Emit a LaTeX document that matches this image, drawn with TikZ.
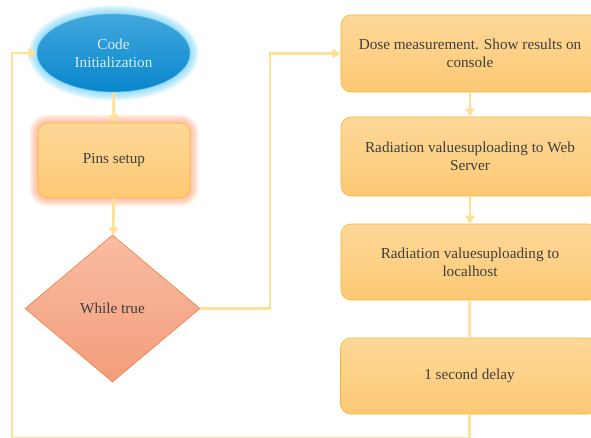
\documentclass[tikz,border=0pt]{standalone}
\usepackage{fontspec}
\setmainfont{Liberation Serif}
\usetikzlibrary{shapes.geometric,arrows.meta,backgrounds}

\definecolor{flowline}{HTML}{FFE196}
\definecolor{boxtop}{HTML}{FDD898}
\definecolor{boxbot}{HTML}{FCC974}
\definecolor{boxedge}{HTML}{F8B630}
\definecolor{ovaltop}{HTML}{42A8DE}
\definecolor{ovalbot}{HTML}{0886CB}
\definecolor{ovaledge}{HTML}{5DB9E9}
\definecolor{diatop}{HTML}{F9BCA3}
\definecolor{diabot}{HTML}{F39D7B}
\definecolor{diaedge}{HTML}{EE7D3C}
\definecolor{labeltext}{HTML}{3F3F3F}

\tikzset{
  stepbox/.style={rectangle, rounded corners=3mm, draw=boxedge, line width=0.5pt,
    top color=boxtop, bottom color=boxbot, text=labeltext, align=center,
    minimum width=77.4mm, minimum height=23.1mm},
  flow/.style={draw=flowline, line width=0.8mm},
  flowarrow/.style={flow, -{Triangle[length=2.4mm,width=2.8mm]}}
}

\begin{document}
\begin{tikzpicture}[x=0.3mm, y=-0.3mm, font=\fontsize{13}{15.5}\selectfont]

	\useasboundingbox (0,0) rectangle (591,438);
	\clip (0,0) rectangle (591,438);

	% left column
	\node[ellipse, draw=ovaledge, line width=0.5pt, top color=ovaltop, bottom color=ovalbot,
		text=white!80!ovaltop, align=center, minimum width=45.9mm, minimum height=23.4mm]
		(init) at (113.5,53) {Code\\Initialization};
	\node[stepbox, minimum width=45.6mm, minimum height=22.5mm] (pins) at (114,160.5) {Pins setup};
	\node[diamond, draw=diaedge, line width=0.5pt, top color=diatop, bottom color=diabot,
		text=labeltext, minimum width=52.5mm, minimum height=44.1mm, inner sep=0pt]
		(loop) at (112.5,308.5) {While true};

	% right column
	\node[stepbox] (dose) at (470,53.5) {Dose measurement. Show results on\\console};
	\node[stepbox, minimum height=23.7mm] (web) at (470,156.5) {Radiation valuesuploading to Web\\Server};
	\node[stepbox, minimum height=22.8mm] (local) at (470,262) {Radiation valuesuploading to\\localhost};
	\node[stepbox, minimum height=22.8mm] (delay) at (469.5,376) {1 second delay};

	% soft halos
	\begin{scope}[on background layer]
		\foreach \w in {1,...,7}
			\draw[cyan!60!white, opacity=0.13, line width=\w*0.75mm]
				(init.center) ellipse [x radius=22.95mm, y radius=11.7mm];
		\foreach \w in {1,...,7}
			\draw[orange!60!red!55!white, opacity=0.12, line width=\w*0.7mm, rounded corners=3mm]
				(pins.south west) rectangle (pins.north east);
	\end{scope}

	% connectors
	\coordinate (bend) at (270,308.5);
	\coordinate (back1) at (469.5,438.5);
	\coordinate (back2) at (12,438.5);

	\draw[flowarrow] (init) -- (pins);
	\draw[flowarrow] (pins) -- (loop);
	\draw[flowarrow] (loop.east) -- (bend) |- (dose.west);
	\draw[flowarrow] (dose) -- (web);
	\draw[flowarrow] (web) -- (local);
	\draw[flow] (local) -- (delay);
	\draw[flowarrow] (delay.south) -- (back1) -- (back2) |- (init.west);

\end{tikzpicture}
\end{document}
